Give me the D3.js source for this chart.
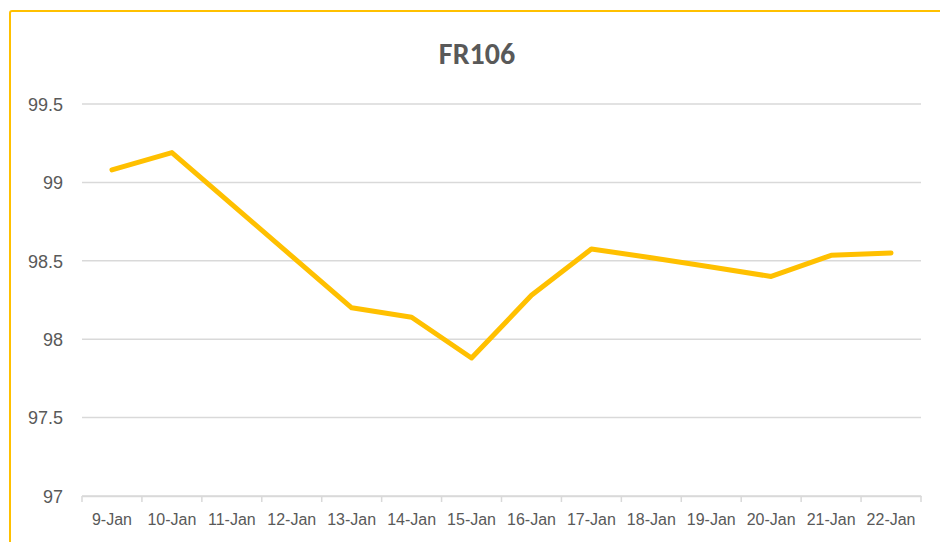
<!DOCTYPE html>
<html>
<head>
<meta charset="utf-8">
<script src="https://cdn.jsdelivr.net/npm/d3@7"></script>
<style>
  body { margin: 0; background: #fff; }
  svg { display: block; font-family: Calibri, Carlito, "Liberation Sans", sans-serif; }
  .ejes text { fill: #595959; }
  .grid line { stroke: #d9d9d9; stroke-width: 1.5; }
</style>
</head>
<body>
<div id="graf"></div>
<script>
const graf = d3.select("#graf")

const anchoTotal = 940
const altoTotal = 542
const margins = { left: 82, top: 104, right: 19, bottom: 46 }
const ancho = anchoTotal - margins.left - margins.right
const alto = altoTotal - margins.top - margins.bottom

// Data
const titulo = "FR106"
const fechas = [
  "9-Jan", "10-Jan", "11-Jan", "12-Jan", "13-Jan", "14-Jan", "15-Jan",
  "16-Jan", "17-Jan", "18-Jan", "19-Jan", "20-Jan", "21-Jan", "22-Jan",
]
const precios = [
  99.08, 99.19, 98.86, 98.53, 98.2, 98.14, 97.88,
  98.28, 98.575, 98.52, 98.46, 98.4, 98.535, 98.55,
]
const yTicks = [97, 97.5, 98, 98.5, 99, 99.5]

const data = fechas.map((f, i) => ({ fecha: f, precio: precios[i] }))

const svg = graf
  .append("svg")
  .attr("width", anchoTotal)
  .attr("height", altoTotal)

// marco del grafico
svg
  .append("rect")
  .attr("x", 10)
  .attr("y", 11)
  .attr("width", 960)
  .attr("height", 560)
  .attr("rx", 2)
  .attr("fill", "none")
  .attr("stroke", "#ffc000")
  .attr("stroke-width", 2)

svg
  .append("text")
  .attr("x", 477)
  .attr("y", 64)
  .attr("text-anchor", "middle")
  .attr("font-size", 30)
  .attr("font-weight", "bold")
  .attr("fill", "#595959")
  .text(titulo)

const g = svg
  .append("g")
  .attr("transform", `translate(${margins.left}, ${margins.top})`)

// Escaladores
const x = d3.scaleBand().domain(fechas).range([0, ancho]).padding(0)

const y = d3
  .scaleLinear()
  .domain([d3.min(yTicks), d3.max(yTicks)])
  .range([alto, 0])

// Grid
g.append("g")
  .attr("class", "grid")
  .selectAll("line")
  .data(yTicks)
  .join("line")
  .attr("x1", 0)
  .attr("x2", ancho)
  .attr("y1", (d) => y(d))
  .attr("y2", (d) => y(d))

// Ejes
const yAxis = d3
  .axisLeft(y)
  .tickValues(yTicks)
  .tickSize(0)
  .tickPadding(19)
  .tickFormat((d) => d3.format("")(d))
const yAxisGroup = g.append("g").attr("class", "ejes").call(yAxis)
yAxisGroup.select(".domain").remove()
yAxisGroup.selectAll("text").style("font-size", "18px").attr("dy", "0.35em")

const xAxis = d3.axisBottom(x).tickSize(0).tickPadding(18)
const xAxisGroup = g
  .append("g")
  .attr("class", "ejes")
  .attr("transform", `translate(0, ${alto})`)
  .call(xAxis)
xAxisGroup.select(".domain").attr("stroke", "#d9d9d9").attr("stroke-width", 1.5)
xAxisGroup.selectAll("text").style("font-size", "16px")

// marcas entre categorias
xAxisGroup
  .selectAll(".sep")
  .data(d3.range(fechas.length + 1))
  .join("line")
  .attr("class", "sep")
  .attr("x1", (i) => i * x.step())
  .attr("x2", (i) => i * x.step())
  .attr("y1", 0)
  .attr("y2", 6)
  .attr("stroke", "#d9d9d9")
  .attr("stroke-width", 1.5)

// Linea
const linea = d3
  .line()
  .x((d) => x(d.fecha) + x.bandwidth() / 2)
  .y((d) => y(d.precio))

g.append("path")
  .datum(data)
  .attr("d", linea)
  .attr("fill", "none")
  .attr("stroke", "#ffc000")
  .attr("stroke-width", 5)
  .attr("stroke-linejoin", "round")
  .attr("stroke-linecap", "round")
</script>
</body>
</html>
